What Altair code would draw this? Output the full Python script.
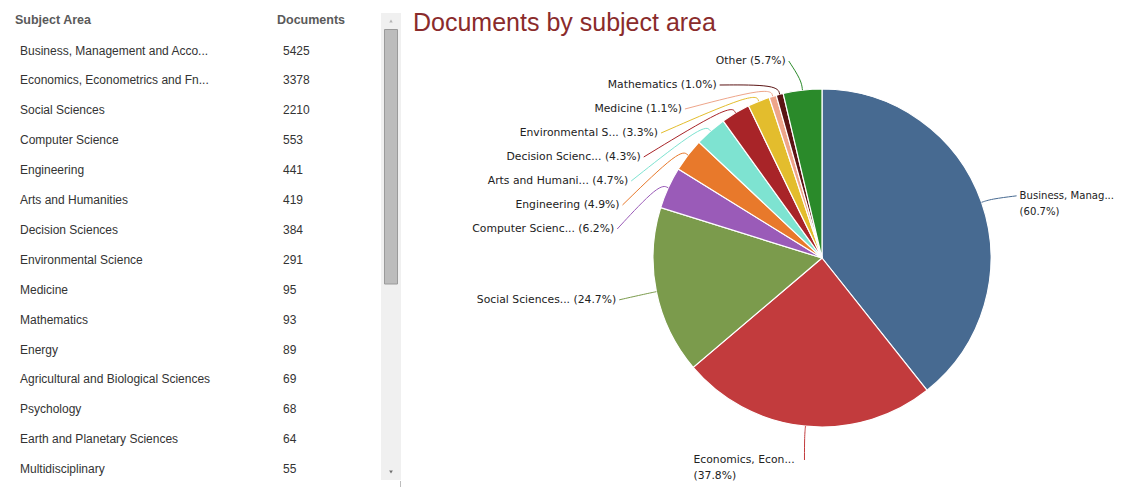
import math
import altair as alt
import pandas as pd

# ---------------- data ----------------
table_subjects = [
    "Business, Management and Acco...",
    "Economics, Econometrics and Fn...",
    "Social Sciences",
    "Computer Science",
    "Engineering",
    "Arts and Humanities",
    "Decision Sciences",
    "Environmental Science",
    "Medicine",
    "Mathematics",
    "Energy",
    "Agricultural and Biological Sciences",
    "Psychology",
    "Earth and Planetary Sciences",
    "Multidisciplinary",
]
table_documents = [5425, 3378, 2210, 553, 441, 419, 384, 291, 95, 93, 89, 69, 68, 64, 55]

pie_names = [
    "Business, Management and Accounting",
    "Economics, Econometrics and Finance",
    "Social Sciences",
    "Computer Science",
    "Engineering",
    "Arts and Humanities",
    "Decision Sciences",
    "Environmental Science",
    "Medicine",
    "Mathematics",
    "Other",
]
pie_values = [5425, 3378, 2210, 553, 441, 419, 384, 291, 95, 93, 509]
pie_labels = [
    "Business, Manag...",
    "Economics, Econ...",
    "Social Sciences...",
    "Computer Scienc...",
    "Engineering",
    "Arts and Humani...",
    "Decision Scienc...",
    "Environmental S...",
    "Medicine",
    "Mathematics",
    "Other",
]
pie_percents = ["60.7%", "37.8%", "24.7%", "6.2%", "4.9%", "4.7%", "4.3%", "3.3%", "1.1%", "1.0%", "5.7%"]
pie_colors = [
    "#476a91", "#c23b3d", "#7b9b4c", "#9a5bb8", "#e8792b", "#7ee3d1",
    "#a82428", "#e3bd2d", "#eea58a", "#5b1414", "#2a8a2a",
]
wrapped_labels = {"Business, Manag...", "Economics, Econ..."}

# ---------------- layout (page pixel coordinates) ----------------
W, H = 1115, 479
OFF = 8
CX, CY, R = 822, 258, 169
LR, RY = 210, 200
TOP, BOTTOM, GAP, LH = 61, 483, 24, 16
CHAR_W = 6.0
LFONT = 10.8
RFONT = 10.1

xs = alt.Scale(domain=[OFF, OFF + W], nice=False, zero=False)
ys = alt.Scale(domain=[OFF, OFF + H], nice=False, zero=False, reverse=True)
X = lambda f: alt.X(f, type="quantitative", scale=xs, axis=None)
Y = lambda f: alt.Y(f, type="quantitative", scale=ys, axis=None)
color = alt.Color("name:N", scale=alt.Scale(domain=pie_names, range=pie_colors), legend=None)

# pie slices
total = sum(pie_values)
pie_df = pd.DataFrame({
    "name": pie_names, "value": pie_values, "idx": list(range(len(pie_names))),
    "cx": CX, "cy": CY,
})

# label layout (Highcharts-like distribution)
info = []
cum = 0
for i, val in enumerate(pie_values):
    a = (cum + val / 2) / total * 2 * math.pi
    cum += val
    s, c = math.sin(a), math.cos(a)
    info.append(dict(i=i, s=s, c=c, left=s < 0, ny=CY - LR * c))

for side in (True, False):
    grp = sorted([d for d in info if d["left"] == side], key=lambda d: d["ny"])
    prev = -1e9
    for d in grp:
        y = max(d["ny"], prev + GAP, TOP)
        d["y"] = y
        prev = y

label_rows, conn_rows = [], []
for d in info:
    i = d["i"]
    lab = pie_labels[i]
    wrapped = lab in wrapped_labels
    y1 = d["y"]
    if wrapped:
        y1 = min(y1 + 7, BOTTOM - 7 - LH)
    dy = y1 - CY
    dx = max(LR * math.sqrt(max(0.0, 1 - (dy / RY) ** 2)), LR * abs(d["s"]))
    if d["left"]:
        xe = CX - dx
        if wrapped:
            lx, align = xe - len(lab) * CHAR_W, "left"
        else:
            lx, align = xe, "right"
        sx = xe + 3
    else:
        xe = CX + dx - 2
        lx, align = xe, "right_side"
        sx = xe - 3
    text = f"{lab}\n({pie_percents[i]})" if wrapped else f"{lab} ({pie_percents[i]})"
    label_rows.append(dict(name=pie_names[i], text=text, x=lx, y=y1, align=align))
    pts = [(sx, y1),
           (CX + (R + 10) * d["s"], CY - (R + 10) * d["c"]),
           (CX + R * d["s"], CY - R * d["c"])]
    for k, (px, py) in enumerate(pts):
        conn_rows.append(dict(name=pie_names[i], seg=k, x=px, y=py))

labels_df = pd.DataFrame(label_rows)
conn_df = pd.DataFrame(conn_rows)

# table rows
ROW0, ROWH = 50.5, 29.9
tab_df = pd.DataFrame({
    "subject": table_subjects,
    "docs": [str(v) for v in table_documents],
    "y": [ROW0 + k * ROWH for k in range(len(table_subjects))],
    "xs": 20, "xd": 283,
})
head_df = pd.DataFrame({"text": ["Subject Area", "Documents"], "x": [15, 277], "y": [20, 20]})
title_df = pd.DataFrame({"text": ["Documents by subject area"], "x": [413], "y": [31]})

# ---------------- layers ----------------
v = lambda p: alt.value(p - OFF)
one = pd.DataFrame({"a": [0]})

scroll_track = alt.Chart(one).mark_rect(fill="#f0f0f0").encode(
    x=v(381), x2=v(401), y=v(13), y2=v(480))
scroll_thumb = alt.Chart(one).mark_rect(
    fill="#bcbcbc", stroke="#9a9a9a", strokeWidth=1).encode(
    x=v(384.5), x2=v(397.5), y=v(29.5), y2=v(284))
arrow_up = alt.Chart(one).mark_point(
    shape="triangle-up", filled=True, size=12, color="#b5b5b5", opacity=1).encode(
    x=v(391), y=v(21))
arrow_down = alt.Chart(one).mark_point(
    shape="triangle-down", filled=True, size=14, color="#707070", opacity=1).encode(
    x=v(391), y=v(472))
edge_line = alt.Chart(one).mark_rule(color="#bdbdbd").encode(
    x=v(400.5), y=v(481), y2=v(OFF + H))

header = alt.Chart(head_df).mark_text(
    align="left", baseline="middle", font="Liberation Sans", fontSize=12.5,
    fontWeight="bold", color="#5a5a5a").encode(x=X("x"), y=Y("y"), text="text:N")
rows_names = alt.Chart(tab_df).mark_text(
    align="left", baseline="middle", font="Liberation Sans", fontSize=12, color="#333333").encode(
    x=X("xs"), y=Y("y"), text="subject:N")
rows_docs = alt.Chart(tab_df).mark_text(
    align="left", baseline="middle", font="Liberation Sans", fontSize=12, color="#333333").encode(
    x=X("xd"), y=Y("y"), text="docs:N")

title = alt.Chart(title_df).mark_text(
    align="left", baseline="alphabetic", font="Liberation Sans", fontSize=25,
    color="#8a2b2b").encode(x=X("x"), y=Y("y"), text="text:N")

pie = alt.Chart(pie_df).mark_arc(outerRadius=R, stroke="white", strokeWidth=1.2).encode(
    x=X("cx"), y=Y("cy"),
    theta=alt.Theta("value:Q", stack=True),
    order=alt.Order("idx:Q", sort="ascending"),
    color=color,
)

connectors = alt.Chart(conn_df).mark_line(interpolate="basis", strokeWidth=1).encode(
    x=X("x"), y=Y("y"), detail="name:N", order="seg:Q", color=color)

lab_common = dict(baseline="middle", font="DejaVu Sans", color="#222222",
                  lineBreak="\n", lineHeight=LH)
labels_right = alt.Chart(labels_df[labels_df["align"] == "right"]).mark_text(
    align="right", fontSize=LFONT, **lab_common).encode(x=X("x"), y=Y("y"), text="text:N")
labels_left = alt.Chart(labels_df[labels_df["align"] == "left"]).mark_text(
    align="left", fontSize=LFONT, **lab_common).encode(x=X("x"), y=Y("y"), text="text:N")
labels_rside = alt.Chart(labels_df[labels_df["align"] == "right_side"]).mark_text(
    align="left", fontSize=RFONT, **lab_common).encode(x=X("x"), y=Y("y"), text="text:N")

chart = alt.layer(
    scroll_track, scroll_thumb, arrow_up, arrow_down, edge_line,
    header, rows_names, rows_docs, title,
    pie, connectors, labels_right, labels_left, labels_rside,
).properties(width=W, height=H, padding=0, autosize="none", background="white"
).configure_view(stroke=None)

chart.save("out.html", embed_options={"renderer": "svg", "actions": False})
